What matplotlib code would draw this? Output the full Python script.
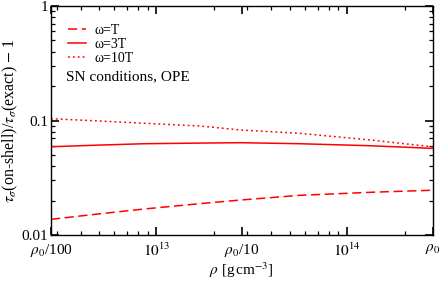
import numpy as np
import matplotlib
matplotlib.use("Agg")
import matplotlib.pyplot as plt
from matplotlib.ticker import FixedLocator, FixedFormatter, LogLocator, NullFormatter

plt.rcParams['font.family'] = ['Liberation Serif', 'DejaVu Serif']
plt.rcParams['mathtext.fontset'] = 'stix'

rho0 = 2.8e14

# densities (log10 of g cm^-3) where the curves were read
log_rho = [12.447, 12.70, 12.94, 13.23, 13.44, 13.75, 14.12, 14.447]
ratio_w1 = [0.0137, 0.0153, 0.0169, 0.0188, 0.0202, 0.0222, 0.0236, 0.0246]
ratio_w3 = [0.0590, 0.0610, 0.0627, 0.0635, 0.0640, 0.0627, 0.0602, 0.0571]
ratio_w10 = [0.1037, 0.0990, 0.0945, 0.0895, 0.0826, 0.0773, 0.0676, 0.0590]

series_labels = ['ω=T', 'ω=3T', 'ω=10T']
xtick_vals = [rho0 / 100, 1e13, rho0 / 10, 1e14, rho0]
xtick_labels = [r'$\rho_0$/100', r'$10^{13}$', r'$\rho_0$/10', r'$10^{14}$', r'$\rho_0$']
ytick_vals = [0.01, 0.1, 1]
ytick_labels = ['0.01', '0.1', '1']

fig = plt.figure(figsize=(4.41, 2.82), dpi=100)
ax = fig.add_axes([51 / 441, 1 - 235 / 282, (432.5 - 51) / 441, (235 - 6) / 282])

rho = 10 ** np.array(log_rho)
ax.plot(rho, ratio_w1, color='red', lw=1.1, ls=(0, (6, 3)), label=series_labels[0])
ax.plot(rho, ratio_w3, color='red', lw=1.1, ls='-', label=series_labels[1])
ax.plot(rho, ratio_w10, color='red', lw=1.1, ls=(0, (1.2, 2.0)), label=series_labels[2])

ax.set_xscale('log')
ax.set_yscale('log')
ax.set_xlim(rho0 / 100, rho0)
ax.set_ylim(0.01, 1)

ax.xaxis.set_major_locator(FixedLocator(xtick_vals))
ax.xaxis.set_major_formatter(FixedFormatter(xtick_labels))
ax.xaxis.set_minor_locator(LogLocator(base=10, subs=np.arange(2, 10)))
ax.xaxis.set_minor_formatter(NullFormatter())
ax.yaxis.set_major_locator(FixedLocator(ytick_vals))
ax.yaxis.set_major_formatter(FixedFormatter(ytick_labels))
ax.yaxis.set_minor_locator(LogLocator(base=10, subs=np.arange(2, 10)))
ax.yaxis.set_minor_formatter(NullFormatter())

ax.tick_params(which='both', direction='in', top=True, right=True, labelsize=11)
ax.tick_params(which='major', length=5.5, width=1.2)
ax.tick_params(which='minor', length=2.8, width=0.9)
ax.tick_params(axis='x', which='major', pad=5)
ax.tick_params(axis='y', which='major', pad=2)
for s in ax.spines.values():
    s.set_linewidth(1.0)

ax.set_xlabel(r'$\rho$ [g$\,$cm$^{-3}$]', fontsize=11, labelpad=1)
ax.set_ylabel(r'$\tau_\sigma$(on-shell)/$\tau_\sigma$(exact) $-$ 1', fontsize=11.5, labelpad=1)

leg = ax.legend(loc='upper left', frameon=False, fontsize=10, handlelength=1.25,
                handletextpad=0.65, labelspacing=0.05, borderaxespad=0.0, borderpad=0.0,
                bbox_to_anchor=(0.045, 0.92))
ax.text(0.039, 0.69, 'SN conditions, OPE', transform=ax.transAxes, fontsize=11,
        va='center', ha='left')

fig.savefig('out.png', dpi=100)
